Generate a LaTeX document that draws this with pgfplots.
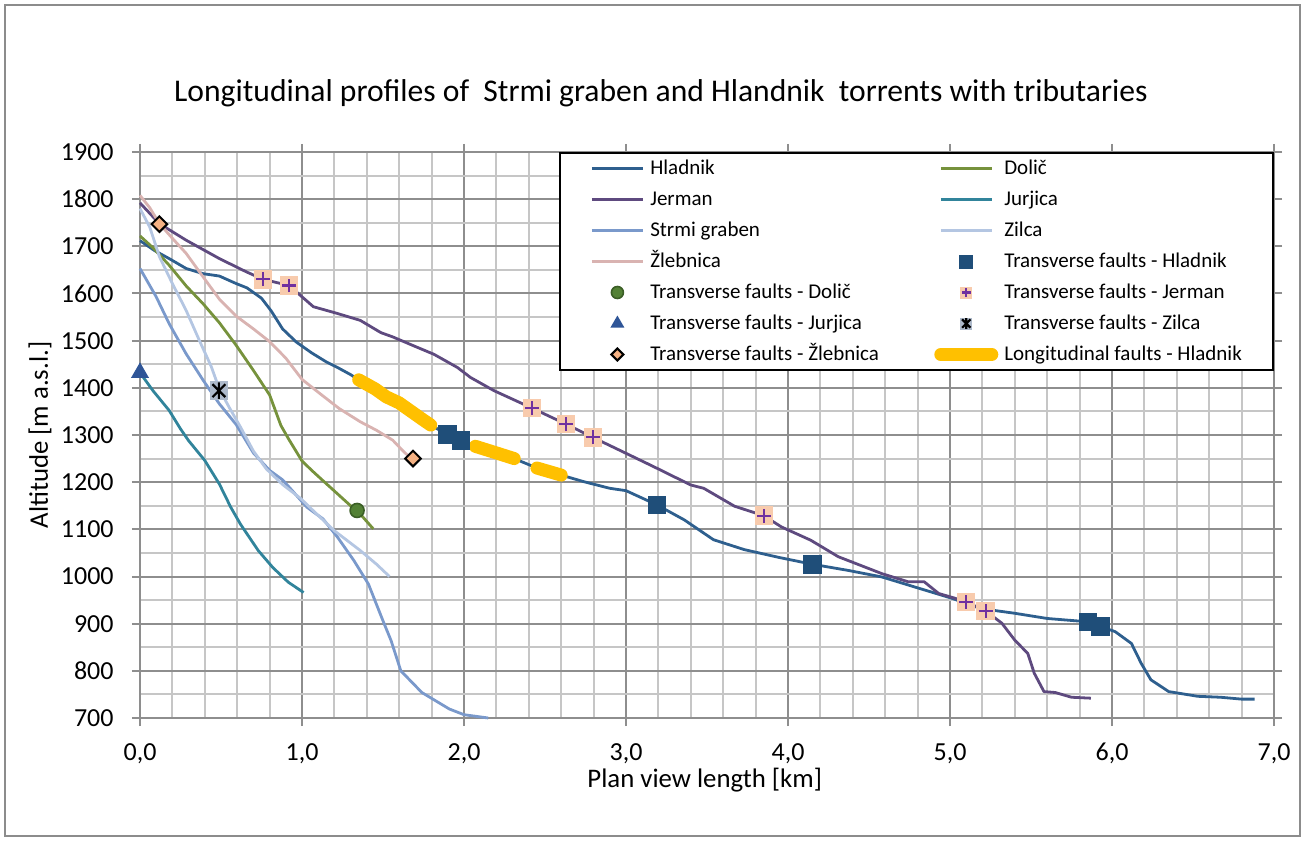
\documentclass[border=0pt]{standalone}
\usepackage{pgfplots}
\pgfplotsset{compat=1.18}
\usepackage{fontspec}
\setmainfont{Carlito}

\definecolor{framegray}{HTML}{8C8C8C}
\definecolor{gmajor}{HTML}{8E8E8E}
\definecolor{gminor}{HTML}{C6C6C6}
\definecolor{hladnik}{HTML}{2E5F8E}
\definecolor{jerman}{HTML}{5E4A7F}
\definecolor{strmi}{HTML}{7A99CB}
\definecolor{zilca}{HTML}{B4C6E2}
\definecolor{dolic}{HTML}{76923C}
\definecolor{jurjica}{HTML}{31849B}
\definecolor{zleb}{HTML}{D9B3B1}
\definecolor{sqcol}{HTML}{1F4E79}
\definecolor{circfill}{HTML}{538135}
\definecolor{circdraw}{HTML}{3B5E26}
\definecolor{tricol}{HTML}{2F5597}
\definecolor{jbg}{HTML}{F8CBAD}
\definecolor{jfg}{HTML}{7030A0}
\definecolor{zbg}{HTML}{ADB9CA}
\definecolor{diamfill}{HTML}{F4B183}
\definecolor{lfault}{HTML}{FFC000}

% plus on a filled square (Jerman faults)
\pgfdeclareplotmark{jplus}{%
  \pgfpathrectangle{\pgfqpoint{-\pgfplotmarksize}{-\pgfplotmarksize}}{\pgfqpoint{2\pgfplotmarksize}{2\pgfplotmarksize}}%
  \pgfsetfillcolor{jbg}\pgfusepath{fill}%
  \pgfpathmoveto{\pgfqpoint{-0.75\pgfplotmarksize}{0pt}}%
  \pgfpathlineto{\pgfqpoint{0.75\pgfplotmarksize}{0pt}}%
  \pgfpathmoveto{\pgfqpoint{0pt}{-0.75\pgfplotmarksize}}%
  \pgfpathlineto{\pgfqpoint{0pt}{0.75\pgfplotmarksize}}%
  \pgfsetstrokecolor{jfg}\pgfusepath{stroke}}
% asterisk on a filled square (Zilca faults)
\pgfdeclareplotmark{zstar}{%
  \pgfpathrectangle{\pgfqpoint{-\pgfplotmarksize}{-\pgfplotmarksize}}{\pgfqpoint{2\pgfplotmarksize}{2\pgfplotmarksize}}%
  \pgfsetfillcolor{zbg}\pgfusepath{fill}%
  \pgfpathmoveto{\pgfqpoint{-0.7\pgfplotmarksize}{-0.7\pgfplotmarksize}}%
  \pgfpathlineto{\pgfqpoint{0.7\pgfplotmarksize}{0.7\pgfplotmarksize}}%
  \pgfpathmoveto{\pgfqpoint{-0.7\pgfplotmarksize}{0.7\pgfplotmarksize}}%
  \pgfpathlineto{\pgfqpoint{0.7\pgfplotmarksize}{-0.7\pgfplotmarksize}}%
  \pgfpathmoveto{\pgfqpoint{0pt}{-0.9\pgfplotmarksize}}%
  \pgfpathlineto{\pgfqpoint{0pt}{0.9\pgfplotmarksize}}%
  \pgfsetstrokecolor{black}\pgfusepath{stroke}}
% square diamond
\pgfdeclareplotmark{rdiamond}{%
  \pgfpathmoveto{\pgfqpoint{0pt}{\pgfplotmarksize}}%
  \pgfpathlineto{\pgfqpoint{\pgfplotmarksize}{0pt}}%
  \pgfpathlineto{\pgfqpoint{0pt}{-\pgfplotmarksize}}%
  \pgfpathlineto{\pgfqpoint{-\pgfplotmarksize}{0pt}}%
  \pgfpathclose\pgfusepathqfillstroke}

\pgfplotsset{
  lleg/.style={legend image code/.code={\draw[##1] (0pt,0pt) -- (25.5pt,0pt);}},
  mleg/.style={legend image code/.code={\path[draw=none,fill=none] (0pt,0pt) -- (25.5pt,0pt);
      \draw[##1,draw=none,mark size=3pt] plot coordinates {(12.75pt,0pt)};}},
  river/.style={no marks, line width=1.4pt, line join=round, lleg},
}
\newcommand{\lcol}[1]{\makebox[139pt][l]{#1}}

\begin{document}
\begin{tikzpicture}
\useasboundingbox (-70pt,-61.5pt) rectangle (583pt,359pt);
\draw[framegray,line width=1pt] (-67.5pt,-59pt) rectangle (580pt,356.5pt);
\begin{axis}[
  at={(0pt,0pt)}, anchor=south west,
  scale only axis, width=567pt, height=283pt,
  clip=false,
  xmin=0, xmax=7, ymin=700, ymax=1900,
  xtick={0,1,...,7}, minor x tick num=4,
  ytick={700,800,...,1900}, minor y tick num=1,
  grid=both,
  major grid style={draw=gmajor, line width=1pt},
  minor grid style={draw=gminor, line width=1pt},
  axis line style={draw=gmajor, line width=1pt},
  tick align=outside, major tick length=4pt, minor tick length=0pt,
  tick style={draw=gmajor, line width=1pt},
  /pgf/number format/assume math mode=true,
  /pgf/number format/1000 sep={},
  tick label style={font=\fontsize{13}{15}\selectfont, inner sep=0pt},
  yticklabel style={xshift=-9pt},
  xticklabel style={yshift=-8.5pt, /pgf/number format/.cd, fixed, fixed zerofill, precision=1, use comma},
  title={Longitudinal profiles of\ \ Strmi graben and Hlandnik\ \ torrents with tributaries},
  title style={at={(axis description cs:0.4594,1.1095)}, anchor=center, yshift=-7.5pt, font=\fontsize{15.8}{18}\selectfont, inner sep=0pt},
  xlabel={Plan view length [km]},
  xlabel style={at={(axis description cs:0.498,-0.1095)}, anchor=center, font=\fontsize{13.4}{15}\selectfont, inner sep=0pt},
  ylabel={Altitude [m a.s.l.]},
  ylabel style={at={(axis description cs:-0.0882,0.5)}, anchor=center, font=\fontsize{13.4}{15}\selectfont, inner sep=0pt},
  legend columns=2,
  legend cell align=left,
  legend style={at={(rel axis cs:1,1)}, anchor=north east,
    draw=black, line width=1pt, fill=white,
    inner xsep=15.5pt, inner ysep=2.5pt,
    column sep=3pt, row sep=5pt,
    font=\fontsize{10.5}{12}\selectfont,
    nodes={inner sep=0pt, text height=8pt, text depth=2.5pt}},
]
\addplot[river, color=hladnik] coordinates {
(0,1712)(0.09,1691)(0.18,1674)(0.285,1653)(0.39,1642)(0.49,1637)(0.594,1621)
(0.66,1612)(0.75,1590)(0.81,1563)(0.88,1525)(0.965,1497)(1.06,1474)(1.15,1455)
(1.22,1443)(1.30,1428)(1.35,1417)(1.45,1398)(1.52,1381)(1.60,1368)(1.67,1351)
(1.74,1334)(1.80,1320)(1.897,1301)(1.98,1289)(2.07,1276)(2.20,1262)(2.31,1250)
(2.45,1230)(2.60,1215)(2.74,1201)(2.90,1187)(3.0,1182)(3.19,1152)(3.36,1120)
(3.54,1078)(3.73,1057)(3.95,1040)(4.15,1026)(4.37,1013)(4.58,999)(4.78,978)
(5.01,954)(5.19,932)(5.40,922)(5.60,911)(5.85,904)(5.93,894)(6.02,883)(6.12,858)
(6.18,816)(6.24,781)(6.35,756)(6.53,746)(6.67,744)(6.80,740)(6.88,740)};
\addlegendentry{\lcol{Hladnik}}
\addplot[river, color=dolic] coordinates {
(0,1722)(0.08,1697)(0.18,1660)(0.285,1616)(0.39,1578)(0.49,1538)(0.594,1490)
(0.70,1437)(0.80,1385)(0.87,1320)(0.92,1290)(1.0,1245)(1.06,1225)(1.13,1203)
(1.22,1175)(1.30,1150)(1.34,1140)(1.44,1101)};
\addlegendentry{Dolič}
\addplot[river, color=jerman] coordinates {
(0,1792)(0.12,1748)(0.285,1713)(0.49,1674)(0.656,1646)(0.76,1630)(0.92,1617)
(1.07,1572)(1.215,1558)(1.36,1543)(1.487,1517)(1.56,1508)(1.69,1489)(1.815,1471)
(1.96,1443)(2.04,1422)(2.185,1394)(2.42,1357)(2.63,1323)(2.795,1295)(2.965,1267)
(3.17,1233)(3.40,1194)(3.48,1187)(3.67,1149)(3.85,1129)(3.96,1105)(4.14,1077)
(4.31,1042)(4.58,1006)(4.74,989)(4.84,989)(4.93,964)(5.03,954)(5.10,946)(5.22,927)
(5.32,901)(5.40,865)(5.48,837)(5.52,795)(5.58,756)(5.65,754)(5.75,744)(5.87,742)};
\addlegendentry{\lcol{Jerman}}
\addplot[river, color=jurjica] coordinates {
(0,1432)(0.08,1394)(0.18,1352)(0.25,1313)(0.30,1288)(0.40,1246)(0.49,1196)
(0.56,1147)(0.62,1111)(0.73,1055)(0.82,1019)(0.915,988)(1.01,966)};
\addlegendentry{Jurjica}
\addplot[river, color=strmi] coordinates {
(0,1653)(0.1,1593)(0.18,1536)(0.285,1472)(0.39,1416)(0.49,1366)(0.594,1322)
(0.70,1262)(0.80,1225)(0.88,1205)(0.94,1182)(1.03,1147)(1.13,1122)(1.22,1083)
(1.32,1034)(1.41,984)(1.50,906)(1.55,864)(1.61,800)(1.74,754)(1.91,719)(2.0,707)
(2.15,700)};
\addlegendentry{\lcol{Strmi graben}}
\addplot[river, color=zilca] coordinates {
(0,1780)(0.06,1741)(0.12,1678)(0.2,1621)(0.285,1564)(0.367,1500)(0.44,1445)
(0.49,1397)(0.55,1359)(0.62,1317)(0.70,1266)(0.78,1228)(0.88,1195)(0.99,1166)
(1.08,1136)(1.20,1097)(1.36,1055)(1.46,1026)(1.54,1000)};
\addlegendentry{Zilca}
\addplot[river, color=zleb] coordinates {
(0,1808)(0.06,1782)(0.12,1748)(0.2,1717)(0.285,1685)(0.39,1635)(0.49,1588)
(0.594,1552)(0.70,1525)(0.80,1498)(0.90,1463)(1.0,1418)(1.11,1388)(1.23,1356)
(1.36,1328)(1.46,1310)(1.56,1289)(1.63,1264)(1.70,1242)};
\addlegendentry{\lcol{Žlebnica}}
\addplot[only marks, mark=square*, mark size=4.4pt, color=sqcol, mleg] coordinates {
(1.897,1301)(1.98,1289)(3.19,1152)(4.15,1026)(5.85,904)(5.93,894)};
\addlegendentry{Transverse faults - Hladnik}
\addplot[only marks, mark=*, mark size=3.5pt, mark options={fill=circfill, draw=circdraw, line width=0.8pt}, mleg] coordinates {
(1.34,1140)};
\addlegendentry{\lcol{Transverse faults - Dolič}}
\addplot[only marks, mark=jplus, mark size=4.6pt, mark options={line width=1.1pt}, mleg] coordinates {
(0.76,1630)(0.92,1617)(2.42,1357)(2.63,1323)(2.795,1295)(3.85,1129)(5.10,946)(5.22,927)};
\addlegendentry{Transverse faults - Jerman}
\addplot[only marks, mark=triangle*, mark size=4.8pt, color=tricol, mleg] coordinates {
(0,1432)};
\addlegendentry{\lcol{Transverse faults - Jurjica}}
\addplot[only marks, mark=zstar, mark size=4.6pt, mark options={line width=1.1pt}, mleg] coordinates {
(0.487,1394)};
\addlegendentry{Transverse faults - Zilca}
\addplot[only marks, mark=rdiamond, mark size=3.9pt, mark options={fill=diamfill, draw=black, line width=1pt}, mleg] coordinates {
(0.12,1747)(1.685,1250)};
\addlegendentry{\lcol{Transverse faults - Žlebnica}}
\addplot[no marks, color=lfault, line width=6.5pt, line cap=round, line join=round, unbounded coords=jump, lleg] coordinates {
(1.35,1417)(1.45,1398)(1.52,1381)(1.60,1368)(1.67,1351)(1.74,1334)(1.795,1321)
(1.9,nan)
(2.07,1276)(2.20,1262)(2.31,1250)
(2.4,nan)
(2.45,1230)(2.60,1215)};
\addlegendentry{Longitudinal faults - Hladnik}
\end{axis}
\end{tikzpicture}
\end{document}
